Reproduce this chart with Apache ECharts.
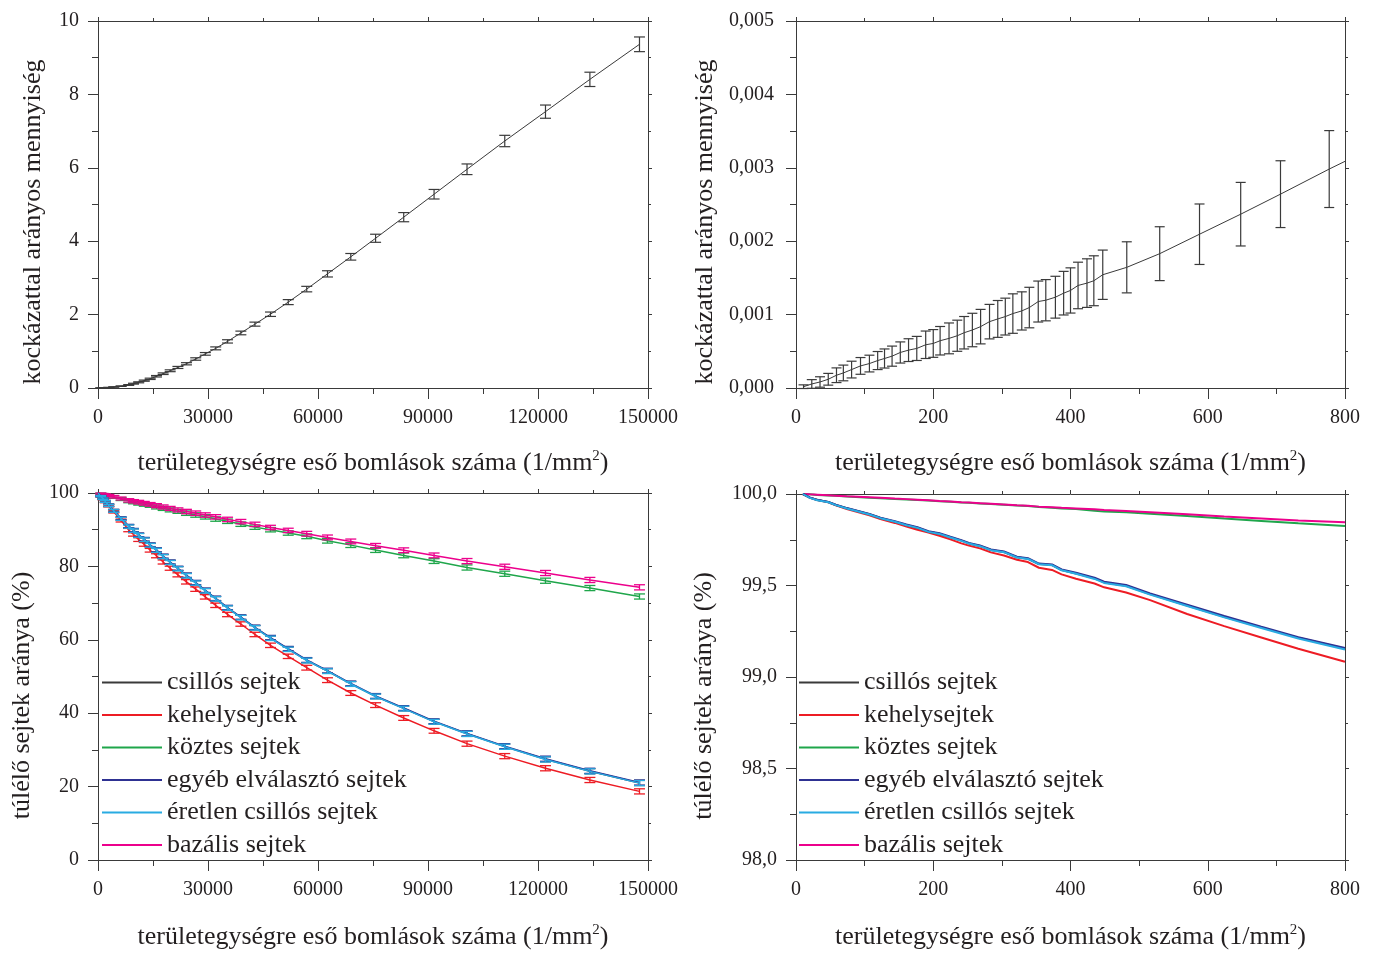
<!DOCTYPE html>
<html><head><meta charset="utf-8">
<script src="https://cdn.jsdelivr.net/npm/echarts@6/dist/echarts.min.js"></script>
<style>html,body{margin:0;padding:0;background:#fff}#c{width:1377px;height:954px}</style>
</head><body><div id="c"></div>
<script>
// ---------- DATA ----------
// dose grid for the two left panels (1/mm^2)
const doseX = [0, 777, 1370, 2000, 2930, 4300, 6300, 8380, 9690, 11100, 12620, 14230, 15950, 17765, 19683, 21800, 24125, 26649, 29274, 32100, 35330, 38964, 42800, 47039, 51884, 56931, 62584, 68943, 75706, 83378, 91655, 100640, 110935, 122040, 134152, 147678];
// top-left: risk-proportional quantity
const riskY = [0, 0.003, 0.0053, 0.0088, 0.015, 0.027, 0.05, 0.082, 0.118, 0.155, 0.2, 0.25, 0.32, 0.39, 0.47, 0.56, 0.66, 0.79, 0.93, 1.08, 1.27, 1.50, 1.74, 2.01, 2.34, 2.695, 3.11, 3.575, 4.08, 4.655, 5.28, 5.96, 6.73, 7.53, 8.41, 9.365];
const riskErr = [0, 0.0005, 0.0008, 0.0012, 0.002, 0.004, 0.007, 0.01, 0.012, 0.014, 0.016, 0.018, 0.02, 0.022, 0.025, 0.028, 0.03, 0.033, 0.036, 0.04, 0.045, 0.05, 0.055, 0.06, 0.068, 0.075, 0.085, 0.09, 0.11, 0.125, 0.13, 0.145, 0.155, 0.18, 0.195, 0.2];
// top-right: low-dose detail
const lowX = [11, 23, 35, 47, 59, 69, 81, 94, 107, 119, 129, 140, 152, 164, 176, 189, 200, 210, 223, 235, 245, 257, 269, 282, 294, 305, 316, 329, 340, 353, 364, 378, 390, 400, 411, 424, 434, 447, 482, 530, 588, 648, 706, 777, 800];
const lowY = [0.000018, 0.000055, 0.000082, 0.000119, 0.000174, 0.000205, 0.000251, 0.000301, 0.000333, 0.000374, 0.000402, 0.000434, 0.000484, 0.000516, 0.000539, 0.000589, 0.000607, 0.000644, 0.000676, 0.000712, 0.000753, 0.00079, 0.000836, 0.000904, 0.000941, 0.000973, 0.001014, 0.00105, 0.001096, 0.001178, 0.001196, 0.001237, 0.001292, 0.001329, 0.001397, 0.001429, 0.001461, 0.001543, 0.001644, 0.00183, 0.002095, 0.002368, 0.002641, 0.002983, 0.003088];
const lowErr = [0.000025, 0.000059, 0.000071, 0.00008, 0.0001, 0.000107, 0.000114, 0.000114, 0.000114, 0.000123, 0.00013, 0.000137, 0.000144, 0.000155, 0.000164, 0.000187, 0.000189, 0.000194, 0.00021, 0.000212, 0.000221, 0.000228, 0.000235, 0.000235, 0.000251, 0.000251, 0.000269, 0.00026, 0.000276, 0.000279, 0.000281, 0.000285, 0.000297, 0.000308, 0.000317, 0.000331, 0.00034, 0.000336, 0.000348, 0.000367, 0.000412, 0.000433, 0.000455, 0.000524, 0];

// bottom-left: surviving cells (%) on doseX
const survCsillos = [100, 99.15, 98.45, 97.7, 96.65, 95.15, 93.0, 90.9, 89.8, 88.5, 87.3, 85.8, 84.4, 82.7, 81.1, 79.4, 77.5, 75.5, 73.4, 71.2, 68.7, 66.1, 63.3, 60.45, 57.45, 54.4, 51.5, 48.0, 44.6, 41.3, 37.7, 34.4, 30.9, 27.45, 24.2, 21.0];
const survKehely = [100, 99.05, 98.35, 97.6, 96.5, 94.9, 92.5, 89.9, 88.7, 87.3, 86.0, 84.4, 82.9, 81.2, 79.5, 77.7, 75.8, 73.8, 71.7, 69.4, 66.9, 64.3, 61.45, 58.5, 55.5, 52.4, 49.0, 45.5, 42.2, 38.7, 35.2, 31.7, 28.3, 25.0, 21.8, 18.7];
const survKoztes = [100, 99.83, 99.64, 99.47, 99.23, 98.88, 98.35, 97.8, 97.5, 97.2, 96.9, 96.6, 96.2, 95.8, 95.4, 95.0, 94.5, 94.0, 93.5, 92.9, 92.3, 91.5, 90.7, 90.0, 89.1, 88.2, 87.0, 85.8, 84.45, 83.0, 81.45, 79.7, 78.0, 76.1, 74.1, 71.8];
const survEgyeb = [100, 99.16, 98.47, 97.72, 96.7, 95.2, 93.1, 91.0, 89.9, 88.6, 87.4, 85.9, 84.5, 82.8, 81.2, 79.5, 77.6, 75.6, 73.5, 71.3, 68.8, 66.2, 63.4, 60.6, 57.6, 54.5, 51.6, 48.1, 44.7, 41.4, 37.8, 34.5, 31.0, 27.6, 24.3, 21.1];
const survEretlen = [100, 99.14, 98.43, 97.68, 96.6, 95.1, 92.95, 90.85, 89.75, 88.45, 87.25, 85.75, 84.35, 82.65, 81.05, 79.35, 77.45, 75.45, 73.35, 71.15, 68.65, 66.05, 63.25, 60.4, 57.4, 54.35, 51.45, 47.95, 44.55, 41.25, 37.65, 34.35, 30.85, 27.4, 24.15, 20.95];
const survBazalis = [100, 99.84, 99.67, 99.52, 99.3, 98.97, 98.5, 98.0, 97.75, 97.5, 97.2, 96.9, 96.55, 96.2, 95.8, 95.4, 94.95, 94.5, 94.0, 93.5, 92.8, 92.2, 91.45, 90.6, 89.8, 88.9, 87.9, 86.8, 85.6, 84.4, 83.0, 81.45, 79.9, 78.2, 76.3, 74.3];
const survErr = [0, 0.15, 0.2, 0.25, 0.3, 0.35, 0.4, 0.45, 0.45, 0.5, 0.5, 0.5, 0.55, 0.55, 0.55, 0.55, 0.6, 0.6, 0.6, 0.6, 0.6, 0.6, 0.6, 0.6, 0.6, 0.65, 0.65, 0.65, 0.65, 0.65, 0.65, 0.7, 0.7, 0.7, 0.7, 0.7];

// bottom-right: surviving cells (%) at low dose
const lowSurvX = [10, 20, 31, 47, 58, 74, 107, 123, 144, 161, 177, 193, 209, 225, 241, 252, 268, 284, 303, 322, 338, 354, 373, 387, 408, 435, 449, 481, 516, 570, 624, 678, 732, 800];
const lowCsillos = [100.0, 99.980, 99.967, 99.956, 99.940, 99.922, 99.889, 99.869, 99.849, 99.830, 99.816, 99.794, 99.783, 99.763, 99.745, 99.730, 99.716, 99.694, 99.683, 99.654, 99.646, 99.617, 99.612, 99.584, 99.566, 99.539, 99.517, 99.499, 99.453, 99.391, 99.329, 99.271, 99.214, 99.154];
const lowKehely = [100.0, 99.980, 99.967, 99.955, 99.938, 99.918, 99.883, 99.863, 99.842, 99.822, 99.805, 99.790, 99.772, 99.752, 99.730, 99.718, 99.703, 99.681, 99.664, 99.641, 99.628, 99.597, 99.585, 99.561, 99.537, 99.511, 99.490, 99.462, 99.420, 99.344, 99.278, 99.216, 99.154, 99.083];
const lowKoztes = [100, 99.998, 99.995, 99.992, 99.99, 99.987, 99.98, 99.977, 99.972, 99.97, 99.967, 99.964, 99.96, 99.957, 99.953, 99.952, 99.948, 99.945, 99.941, 99.937, 99.934, 99.929, 99.925, 99.921, 99.918, 99.908, 99.905, 99.9, 99.892, 99.88, 99.866, 99.853, 99.84, 99.825];
const lowEgyeb = [100.0, 99.981, 99.968, 99.957, 99.941, 99.923, 99.891, 99.871, 99.851, 99.833, 99.819, 99.797, 99.786, 99.766, 99.748, 99.733, 99.719, 99.697, 99.686, 99.657, 99.649, 99.62, 99.615, 99.588, 99.57, 99.543, 99.521, 99.503, 99.457, 99.395, 99.333, 99.275, 99.218, 99.158];
const lowEretlen = [100.0, 99.979, 99.966, 99.955, 99.939, 99.921, 99.888, 99.868, 99.848, 99.829, 99.815, 99.793, 99.782, 99.762, 99.744, 99.729, 99.715, 99.693, 99.682, 99.653, 99.645, 99.616, 99.611, 99.583, 99.564, 99.536, 99.514, 99.496, 99.45, 99.388, 99.326, 99.268, 99.21, 99.15];
const lowBazalis = [100, 99.998, 99.996, 99.993, 99.991, 99.988, 99.982, 99.979, 99.975, 99.972, 99.969, 99.966, 99.962, 99.959, 99.955, 99.953, 99.95, 99.947, 99.943, 99.939, 99.936, 99.931, 99.928, 99.925, 99.921, 99.916, 99.912, 99.907, 99.9, 99.889, 99.877, 99.866, 99.855, 99.845];

const seriesNames = ['csillós sejtek', 'kehelysejtek', 'köztes sejtek', 'egyéb elválasztó sejtek', 'éretlen csillós sejtek', 'bazális sejtek'];
const xTitle = 'területegységre eső bomlások száma (1/mm{sup|2})';
const riskTitle = 'kockázattal arányos mennyiség';
const survTitle = 'túlélő sejtek aránya (%)';

// ---------- STYLE ----------
const FONT = '"Liberation Serif", "Times New Roman", serif';
const TXT = '#231f20';
const AX = '#3a3a3a';
const COL = {
  'csillós sejtek': '#3a3a3a',
  'kehelysejtek': '#ed1c24',
  'köztes sejtek': '#1fa64b',
  'egyéb elválasztó sejtek': '#2e3192',
  'éretlen csillós sejtek': '#29abe2',
  'bazális sejtek': '#ec008c'
};

const grids = [
  {left: 98, top: 21, width: 550, height: 367},
  {left: 796, top: 21, width: 549, height: 367},
  {left: 98, top: 493, width: 550, height: 367},
  {left: 796, top: 494, width: 549, height: 366}
];

const nameStyle = {
  fontFamily: FONT, fontSize: 26, color: TXT,
  rich: {sup: {fontFamily: FONT, fontSize: 15, color: TXT, verticalAlign: 'top', padding: [0, 0, 13, 0]}}
};
const labelStyle = {fontFamily: FONT, fontSize: 20, color: TXT};

function xAxes(g, min, max, interval, fmt, gap) {
  return [{
    gridIndex: g, type: 'value', min, max, interval, position: 'bottom',
    axisLine: {show: true, onZero: false, lineStyle: {color: AX, width: 1}},
    axisTick: {show: true, length: 11, lineStyle: {color: AX}},
    minorTick: {show: true, splitNumber: 2, length: 6, lineStyle: {color: AX}},
    splitLine: {show: false}, minorSplitLine: {show: false},
    axisLabel: Object.assign({margin: 20, formatter: fmt}, labelStyle),
    name: xTitle, nameLocation: 'middle', nameGap: gap, nameTextStyle: nameStyle
  }, {
    gridIndex: g, type: 'value', min, max, interval, position: 'top',
    axisLine: {show: true, onZero: false, lineStyle: {color: AX, width: 1}},
    axisTick: {show: true, length: 4, lineStyle: {color: AX}},
    minorTick: {show: true, splitNumber: 2, length: 3, lineStyle: {color: AX}},
    splitLine: {show: false}, axisLabel: {show: false}
  }];
}
function yAxes(g, min, max, interval, fmt, title, gap, shift, margin) {
  return [{
    gridIndex: g, type: 'value', min, max, interval, position: 'left',
    axisLine: {show: true, onZero: false, lineStyle: {color: AX, width: 1}},
    axisTick: {show: true, length: 10, lineStyle: {color: AX}},
    minorTick: {show: true, splitNumber: 2, length: 6, lineStyle: {color: AX}},
    splitLine: {show: false}, minorSplitLine: {show: false},
    axisLabel: Object.assign({margin, formatter: fmt}, labelStyle),
    name: title, nameLocation: 'middle', nameGap: gap,
    nameTextStyle: Object.assign({padding: [0, shift, 0, 0]}, nameStyle)
  }, {
    gridIndex: g, type: 'value', min, max, interval, position: 'right',
    axisLine: {show: true, onZero: false, lineStyle: {color: AX, width: 1}},
    axisTick: {show: true, length: 4, lineStyle: {color: AX}},
    minorTick: {show: true, splitNumber: 2, length: 3, lineStyle: {color: AX}},
    splitLine: {show: false}, axisLabel: {show: false}
  }];
}

const comma = d => v => v.toFixed(d).replace('.', ',');
const plain = v => String(v);

const xa = [
  xAxes(0, 0, 150000, 30000, plain, 61),
  xAxes(1, 0, 800, 200, plain, 61),
  xAxes(2, 0, 150000, 30000, plain, 63),
  xAxes(3, 0, 800, 200, plain, 63)
];
const ya = [
  yAxes(0, 0, 10, 2, plain, riskTitle, 52, 35, 19),
  yAxes(1, 0, 0.005, 0.001, comma(3), riskTitle, 78, 35, 22),
  yAxes(2, 0, 100, 20, plain, survTitle, 63, 38, 19),
  yAxes(3, 98, 100, 0.5, comma(1), survTitle, 79, 38, 19)
];
// bottom axes 0..3, top axes 4..7 ; left axes 0..3, right axes 4..7
const xAxis = xa.map(a => a[0]).concat(xa.map(a => a[1]));
const yAxis = ya.map(a => a[0]).concat(ya.map(a => a[1]));

function lineSeries(name, idx, xs, ys, color, width, z) {
  return {
    type: 'line', name, xAxisIndex: idx, yAxisIndex: idx,
    data: xs.map((x, i) => [x, ys[i]]),
    symbol: 'none', showSymbol: false, smooth: false,
    lineStyle: {color, width}, itemStyle: {color},
    z, silent: true, animation: false
  };
}
function errSeries(name, idx, xs, ys, es, color, cap, width, z) {
  return {
    type: 'custom', name, xAxisIndex: idx, yAxisIndex: idx,
    data: xs.map((x, i) => [x, ys[i], es[i]]),
    encode: {x: 0, y: 1}, z, silent: true, animation: false,
    itemStyle: {color},
    renderItem: function (params, api) {
      const x = api.value(0), y = api.value(1), e = api.value(2);
      if (!e) return null;
      const t = api.coord([x, y + e]);
      const b = api.coord([x, y - e]);
      const st = {stroke: color, lineWidth: width, fill: null};
      return {
        type: 'group', children: [
          {type: 'line', shape: {x1: t[0], y1: t[1], x2: b[0], y2: b[1]}, style: st},
          {type: 'line', shape: {x1: t[0] - cap, y1: t[1], x2: t[0] + cap, y2: t[1]}, style: st},
          {type: 'line', shape: {x1: b[0] - cap, y1: b[1], x2: b[0] + cap, y2: b[1]}, style: st}
        ]
      };
    }
  };
}

const series = [];
// top-left
series.push(lineSeries('risk', 0, doseX, riskY, '#3a3a3a', 1, 3));
series.push(errSeries('risk-err', 0, doseX, riskY, riskErr, '#3a3a3a', 5.5, 1.2, 4));
// top-right
series.push(lineSeries('risk-low', 1, lowX, lowY, '#3a3a3a', 1, 3));
series.push(errSeries('risk-low-err', 1, lowX, lowY, lowErr, '#3a3a3a', 5, 1.2, 4));

// bottom-left
const bl = [
  ['köztes sejtek', survKoztes],
  ['bazális sejtek', survBazalis],
  ['kehelysejtek', survKehely],
  ['csillós sejtek', survCsillos],
  ['egyéb elválasztó sejtek', survEgyeb],
  ['éretlen csillós sejtek', survEretlen]
];
bl.forEach(([n, ys], i) => {
  series.push(lineSeries(n, 2, doseX, ys, COL[n], 1.5, 3 + i));
  series.push(errSeries(n + ' err', 2, doseX, ys, survErr, COL[n], 5.5, 1.3, 3 + i));
});
// bottom-right
const br = [
  ['köztes sejtek', lowKoztes],
  ['bazális sejtek', lowBazalis],
  ['kehelysejtek', lowKehely],
  ['csillós sejtek', lowCsillos],
  ['egyéb elválasztó sejtek', lowEgyeb],
  ['éretlen csillós sejtek', lowEretlen]
];
br.forEach(([n, ys], i) => {
  series.push(lineSeries(n, 3, lowSurvX, ys, COL[n], 2, 3 + i));
});

const legendBase = {
  orient: 'vertical', top: 669.5, padding: 0, itemWidth: 60, itemHeight: 2, itemGap: 6.5,
  icon: 'rect', selectedMode: false, data: seriesNames,
  textStyle: {fontFamily: FONT, fontSize: 26, color: TXT, lineHeight: 26}
};

const chart = echarts.init(document.getElementById('c'), null, {renderer: 'canvas'});
chart.setOption({
  animation: false,
  backgroundColor: '#fff',
  grid: grids,
  xAxis, yAxis,
  legend: [
    Object.assign({left: 102}, legendBase),
    Object.assign({left: 799}, legendBase)
  ],
  series
});
</script></body></html>
